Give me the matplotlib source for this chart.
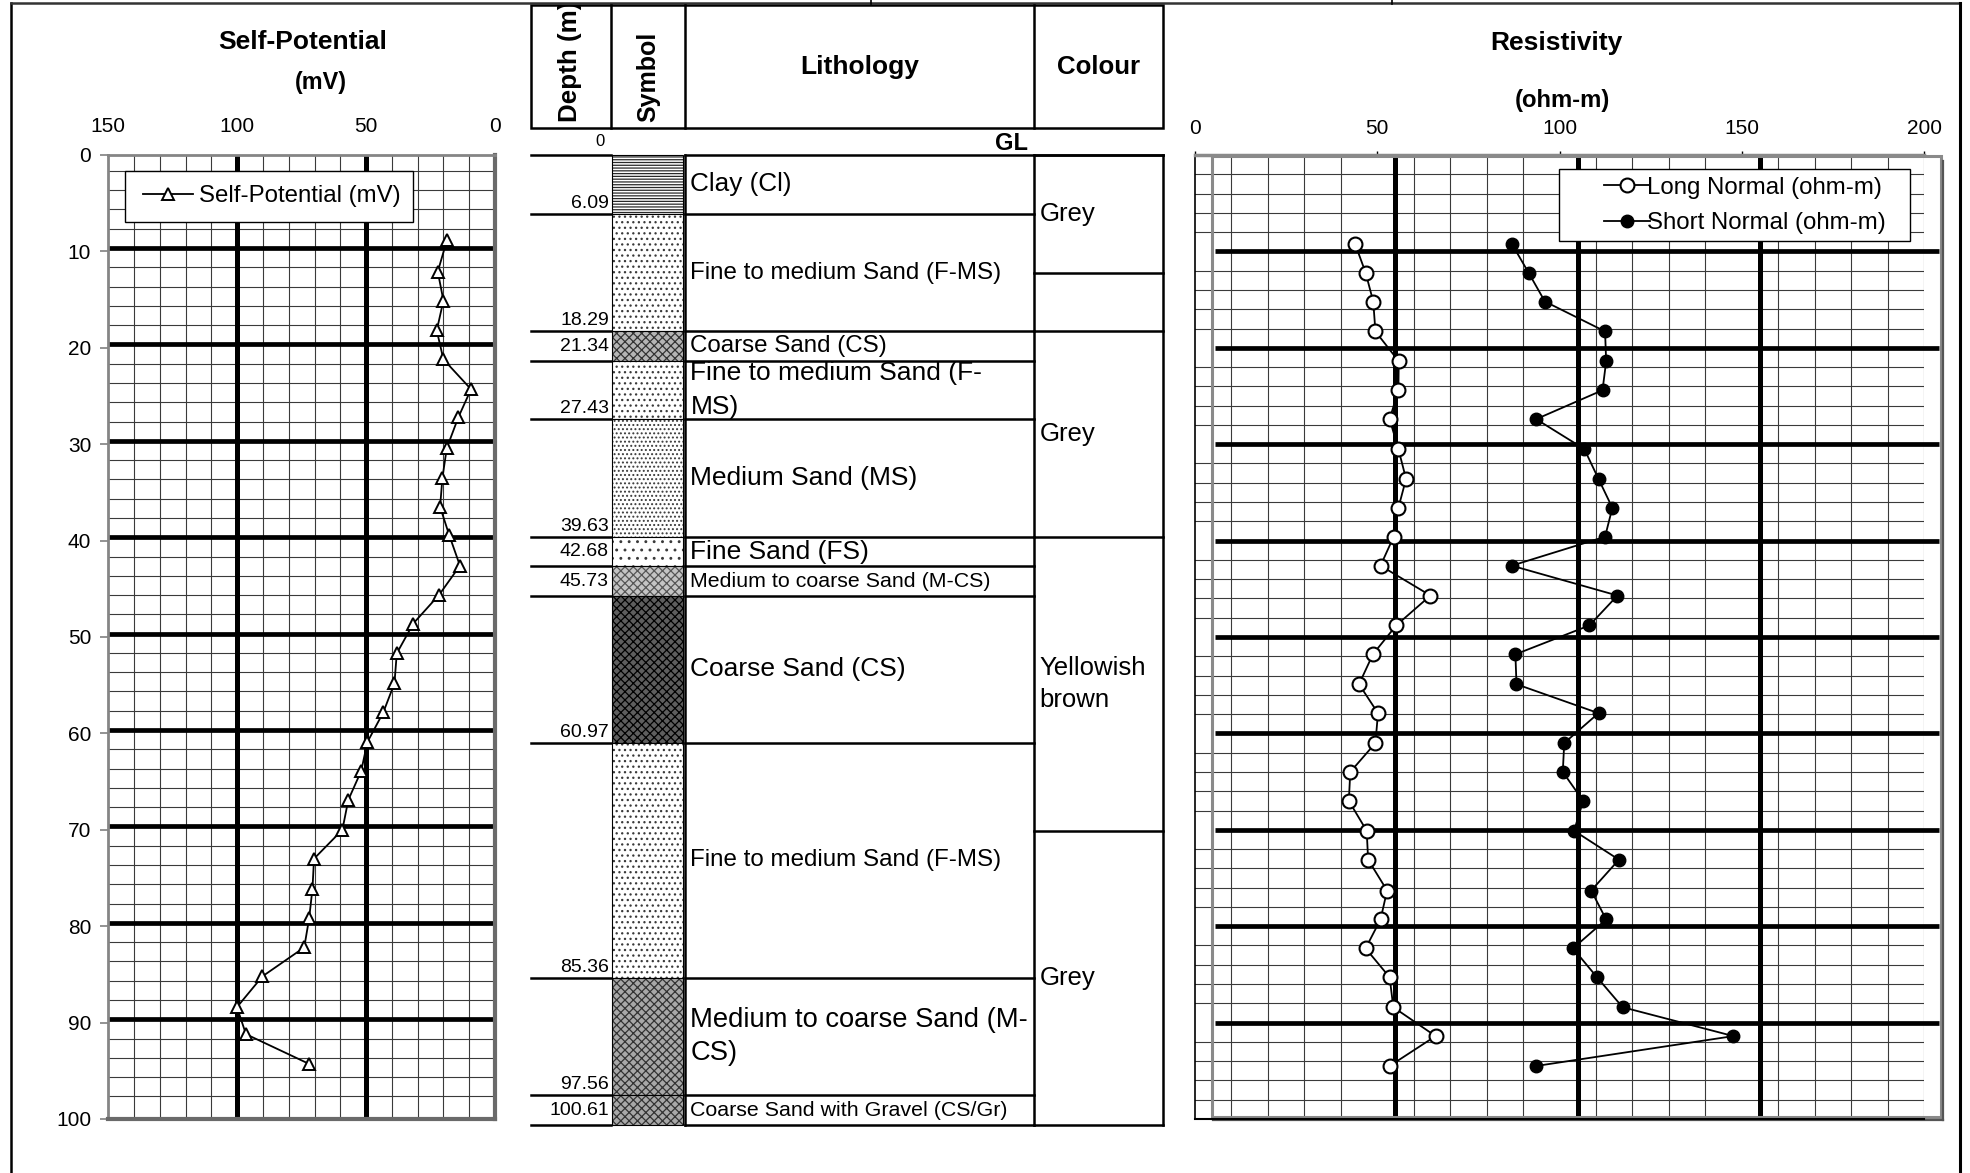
import matplotlib
matplotlib.use('Agg')
import matplotlib.pyplot as plt
from matplotlib.patches import Rectangle
from matplotlib.lines import Line2D
from matplotlib.legend_handler import HandlerLine2D
import numpy as np

W, H, DPI = 1970, 1173, 100
plt.rcParams['font.family'] = ['Liberation Sans', 'DejaVu Sans']
plt.rcParams['hatch.linewidth'] = 0.9

# ---------------- data ----------------
sp_depth = [8.8, 12.1, 15.1, 18.2, 21.2, 24.3, 27.2, 30.4, 33.5, 36.5, 39.4, 42.6, 45.6,
            48.6, 51.7, 54.8, 57.8, 60.9, 63.9, 66.9, 70.0, 73.0, 76.1, 79.2, 82.2, 85.2,
            88.4, 91.2, 94.3]
sp_mv = [18.6, 22.2, 20.0, 22.6, 20.0, 9.3, 14.2, 18.7, 20.4, 21.3, 17.8, 13.6, 21.6,
         31.7, 38.1, 39.0, 43.3, 49.5, 51.9, 56.9, 59.2, 70.2, 70.8, 72.1, 74.0, 90.2,
         100.1, 96.6, 72.0]

res_depth = [9.2, 12.2, 15.2, 18.3, 21.4, 24.4, 27.4, 30.5, 33.6, 36.6, 39.6, 42.6, 45.7,
             48.8, 51.8, 54.9, 57.9, 61.0, 64.0, 67.0, 70.1, 73.1, 76.3, 79.3, 82.3, 85.3,
             88.4, 91.4, 94.5]
long_normal = [43.9, 46.8, 48.9, 49.5, 55.9, 55.8, 53.4, 55.8, 57.9, 55.8, 54.5, 50.9, 64.6,
               55.2, 48.8, 45.0, 50.2, 49.5, 42.6, 42.2, 47.1, 47.5, 52.7, 50.9, 46.8, 53.4,
               54.4, 66.0, 53.4]
short_normal = [86.9, 91.5, 96.0, 112.5, 112.8, 111.8, 93.6, 106.8, 110.7, 114.5, 112.5, 86.9,
                115.9, 108.2, 87.9, 88.2, 110.7, 101.3, 100.9, 106.5, 104.0, 116.3, 108.7,
                112.8, 103.7, 110.3, 117.3, 147.7, 93.6]

sp_ticks = [150, 100, 50, 0]
res_ticks = [0, 50, 100, 150, 200]
depth_ticks = [0, 10, 20, 30, 40, 50, 60, 70, 80, 90, 100]

layer_bottoms = [6.09, 18.29, 21.34, 27.43, 39.63, 42.68, 45.73, 60.97, 85.36, 97.56, 100.61]
layer_labels = ['6.09', '18.29', '21.34', '27.43', '39.63', '42.68', '45.73', '60.97',
                '85.36', '97.56', '100.61']
layer_names = ['Clay (Cl)', 'Fine to medium Sand (F-MS)', 'Coarse Sand (CS)',
               'Fine to medium Sand (F-\nMS)', 'Medium Sand (MS)', 'Fine Sand (FS)',
               'Medium to coarse Sand (M-CS)', 'Coarse Sand (CS)',
               'Fine to medium Sand (F-MS)', 'Medium to coarse Sand (M-\nCS)',
               'Coarse Sand with Gravel (CS/Gr)']
colour_bounds = [0, 12.19, 18.29, 39.63, 70.12, 100.61]
colour_names = ['Grey', '', 'Grey', 'Yellowish\nbrown', 'Grey']

# ---------------- styles ----------------
name_sizes = [18.8, 17.4, 17.4, 19, 19, 19, 15.4, 19, 17.4, 19.7, 15.4]
# (facecolor, hatch, hatchcolor)
patterns = [('white', '------', '#2a2a2a'),
            ('white', '...', '#3a3a3a'),
            ('#b5b5b5', 'xxxx', '#333333'),
            ('white', '...', '#3a3a3a'),
            ('white', '....', '#3a3a3a'),
            ('white', '..', '#3a3a3a'),
            ('#c4c4c4', 'xxxx', '#555555'),
            ('#5e5e5e', 'xxxx', '#000000'),
            ('white', '...', '#3a3a3a'),
            ('#a8a8a8', 'xxxx', '#333333'),
            ('#a8a8a8', 'xxxx', '#333333')]

Y0, Y100 = 155.0, 1119.0
PXM = (Y100 - Y0) / 100.0


def px2d(p):
    return (p - Y0) / PXM


def rect(x0, y0, x1, y1):
    return [x0 / W, 1 - y1 / H, (x1 - x0) / W, (y1 - y0) / H]


fig = plt.figure(figsize=(W / DPI, H / DPI), dpi=DPI, facecolor='white')

# ---------------- background / lithology axes (x: pixels, y: depth) ----------------
lax = fig.add_axes([0, 0, 1, 1])
lax.set_xlim(0, W)
lax.set_ylim(px2d(H), px2d(0))
lax.axis('off')

LW = 1.8
# page frame
lax.plot([10.5, 10.5], [px2d(3.5), px2d(H)], color='black', lw=1.8)
lax.plot([10.5, 1960], [px2d(3.5), px2d(3.5)], color='#333333', lw=1.8)
lax.plot([1960, 1960], [px2d(3.5), px2d(H)], color='black', lw=2.2)
for xs in (870.6, 1392):
    lax.plot([xs, xs], [px2d(0), px2d(4)], color='black', lw=1.2)

# header table
XD0, XD1, XS1, XL1, XC1 = 530.5, 611.3, 685.4, 1034.3, 1162.7
hy0, hy1 = px2d(5), px2d(127.7)
lax.add_patch(Rectangle((XD0, hy0), XC1 - XD0, hy1 - hy0, fill=False, lw=LW, ec='black'))
for xv in (XD1, XS1, XL1):
    lax.plot([xv, xv], [hy0, hy1], color='black', lw=LW)
cell = Rectangle((XD0, hy0), XD1 - XD0, hy1 - hy0, transform=lax.transData)
t = lax.text(570.5, px2d(121.7), 'Depth (m)', rotation=90, ha='center', va='bottom',
             fontsize=18.7, fontweight='bold', clip_on=True)
t.set_clip_path(cell)
lax.text(648, px2d(76.7), 'Symbol', rotation=90, ha='center', va='center',
         fontsize=18, fontweight='bold')
lax.text(860, px2d(66.7), 'Lithology', ha='center', va='center', fontsize=19, fontweight='bold')
lax.text(1098.7, px2d(66.7), 'Colour', ha='center', va='center', fontsize=18.6, fontweight='bold')
lax.text(600, px2d(141.7), '0', ha='center', va='center', fontsize=12)
lax.text(1028.4, px2d(143), 'GL', ha='right', va='center', fontsize=17, fontweight='bold')

# layers
tops = [0.0] + layer_bottoms[:-1]
lax.plot([XD0, XD1], [0, 0], color='black', lw=LW)
lax.plot([XS1, XC1], [0, 0], color='black', lw=LW)
for i, (tp, bt) in enumerate(zip(tops, layer_bottoms)):
    fc, hatch, hc = patterns[i]
    lax.add_patch(Rectangle((XD1 + 0.5, tp), XS1 - XD1 - 2.5, bt - tp, facecolor=fc,
                            hatch=hatch, edgecolor=hc, lw=0))
    lax.add_patch(Rectangle((XD1 + 0.5, tp), XS1 - XD1 - 2.5, bt - tp, fill=False,
                            edgecolor='black', lw=0.8))
    lax.plot([XD0, XD1], [bt, bt], color='black', lw=LW)
    lax.plot([XS1, XL1], [bt, bt], color='black', lw=LW)
    ly = bt - 1.1 if (bt - tp) > 4 else (tp + bt) / 2
    lax.text(XD1 - 2.5, ly, layer_labels[i], ha='right', va='center', fontsize=14)
    parts = layer_names[i].split('\n')
    mid = (tp + bt) / 2
    step = 33.4 / PXM
    for k, part in enumerate(parts):
        yy = mid + (k - (len(parts) - 1) / 2) * step
        lax.text(690.5, yy, part, ha='left', va='center', fontsize=name_sizes[i])
for xv in (XS1, XL1, XC1):
    lax.plot([xv, xv], [0, layer_bottoms[-1]], color='black', lw=LW)
for cb in colour_bounds:
    lax.plot([XL1, XC1], [cb, cb], color='black', lw=LW)
for i, nm in enumerate(colour_names):
    mid = (colour_bounds[i] + colour_bounds[i + 1]) / 2
    parts = nm.split('\n') if nm else []
    step = 31.7 / PXM
    for k, part in enumerate(parts):
        yy = mid + (k - (len(parts) - 1) / 2) * step
        lax.text(1039.8, yy, part, ha='left', va='center', fontsize=18.5)

# ---------------- Self-Potential axes ----------------
GRID_DARK = '#3a3a3a'
ax1 = fig.add_axes(rect(108.3, Y0, 495, Y100))
ax1.set_xlim(150, 0)
ax1.set_ylim(100, 0)
GS = -0.35
for v in range(10, 150, 10):
    if v % 50:
        ax1.axvline(v, color=GRID_DARK, lw=0.8, zorder=1)
for d in range(2, 100, 2):
    if d % 10:
        ax1.axhline(d + GS, color=GRID_DARK, lw=0.8, zorder=1)
for v in (50, 100):
    ax1.axvline(v, color='black', lw=3.6, zorder=2)
for d in range(10, 100, 10):
    ax1.axhline(d + GS, color='black', lw=3.4, zorder=2)
ax1.plot(sp_mv, sp_depth, color='black', lw=1.3, marker='^', ms=9, mfc='white',
         mec='black', mew=1.4, label='Self-Potential (mV)', zorder=4)
ax1.xaxis.tick_top()
ax1.set_xticks(sp_ticks)
ax1.set_yticks(depth_ticks)
ax1.tick_params(axis='x', length=0, pad=13.5, labelsize=15)
ax1.tick_params(axis='y', length=5.8, width=1.2, color='#808080', pad=6.5, labelsize=15)
for s in ax1.spines.values():
    s.set_color('#858585')
    s.set_linewidth(2.0)
for s in ('right', 'bottom'):
    ax1.spines[s].set_color('#6a6a6a')
    ax1.spines[s].set_linewidth(3.0)
leg1 = ax1.legend(loc='upper left', bbox_to_anchor=rect(125, 171, 413, 221),
                  bbox_transform=fig.transFigure, borderaxespad=0, mode='expand',
                  fontsize=17.3, frameon=True, fancybox=False, edgecolor='black',
                  framealpha=1, borderpad=0.6, handlelength=2.25, handletextpad=0.21,
                  handler_map={Line2D: HandlerLine2D(xpad=0.14)})
leg1.get_frame().set_linewidth(1.0)
leg1.set_zorder(6)

# ---------------- Resistivity axes ----------------
ax2 = fig.add_axes(rect(1195, Y0, 1924, Y100))
ax2.set_xlim(0, 200)
ax2.set_ylim(100, 0)
for v in range(10, 201, 10):
    if v % 50 or v == 200:
        ax2.axvline(v, color=GRID_DARK, lw=0.8, zorder=1)
for d in range(2, 100, 2):
    if d % 10:
        ax2.axhline(d, color=GRID_DARK, lw=0.8, zorder=1)
for v in (55, 105, 155):
    ax2.axvline(v, ymax=0.9975, color='black', lw=3.6, zorder=2)
ax2.hlines(range(10, 100, 10), 5.5, 204, color='black', lw=3.4, zorder=2, clip_on=False)
ax2.add_patch(Rectangle((4.6, 0.15), 200.2, 99.6, fill=False, ec='#8a8a8a', lw=2.2,
                        clip_on=False, zorder=2))
ax2.plot([205.3, 205.3], [0.6, 100.1], color='#555555', lw=1.6, clip_on=False, zorder=2)
ax2.plot([5.0, 205.3], [100.1, 100.1], color='#555555', lw=1.6, clip_on=False, zorder=2)
ax2.plot(long_normal, res_depth, color='black', lw=1.3, marker='o', ms=10, mfc='white',
         mec='black', mew=1.5, label='Long Normal (ohm-m)', zorder=4)
ax2.plot(short_normal, res_depth, color='black', lw=1.3, marker='o', ms=9, mfc='black',
         mec='black', mew=1.0, label='Short Normal (ohm-m)', zorder=4)
ax2.xaxis.tick_top()
ax2.set_xticks(res_ticks)
ax2.set_yticks([])
ax2.tick_params(axis='x', length=3, width=1, color='black', pad=9, labelsize=15)
ax2.spines['right'].set_visible(False)
ax2.spines['left'].set_color('black')
ax2.spines['left'].set_linewidth(1.2)
ax2.spines['bottom'].set_color('black')
ax2.spines['bottom'].set_linewidth(1.5)
ax2.spines['top'].set_color('#8a8a8a')
ax2.spines['top'].set_linewidth(2.5)
leg2 = ax2.legend(loc='upper left', bbox_to_anchor=rect(1558.8, 169.3, 1909.8, 240.7),
                  bbox_transform=fig.transFigure, borderaxespad=0, mode='expand',
                  fontsize=17.3, frameon=True, fancybox=False, edgecolor='black',
                  framealpha=1, borderpad=0.3, labelspacing=0.56, handlelength=3.48,
                  handletextpad=-0.11, handler_map={Line2D: HandlerLine2D(xpad=1.57)})
leg2.get_frame().set_linewidth(1.0)
leg2.set_zorder(6)

# ---------------- titles ----------------
fig.text(302.5 / W, 1 - 42.3 / H, 'Self-Potential', ha='center', va='center',
         fontsize=19, fontweight='bold')
fig.text(321.3 / W, 1 - 83.0 / H, '(mV)', ha='center', va='center', fontsize=16.8,
         fontweight='bold')
fig.text(1556.7 / W, 1 - 43.3 / H, 'Resistivity', ha='center', va='center', fontsize=19,
         fontweight='bold')
fig.text(1562.9 / W, 1 - 100.0 / H, '(ohm-m)', ha='center', va='center', fontsize=17.2,
         fontweight='bold')

fig.savefig('out.png', dpi=DPI, facecolor='white')
